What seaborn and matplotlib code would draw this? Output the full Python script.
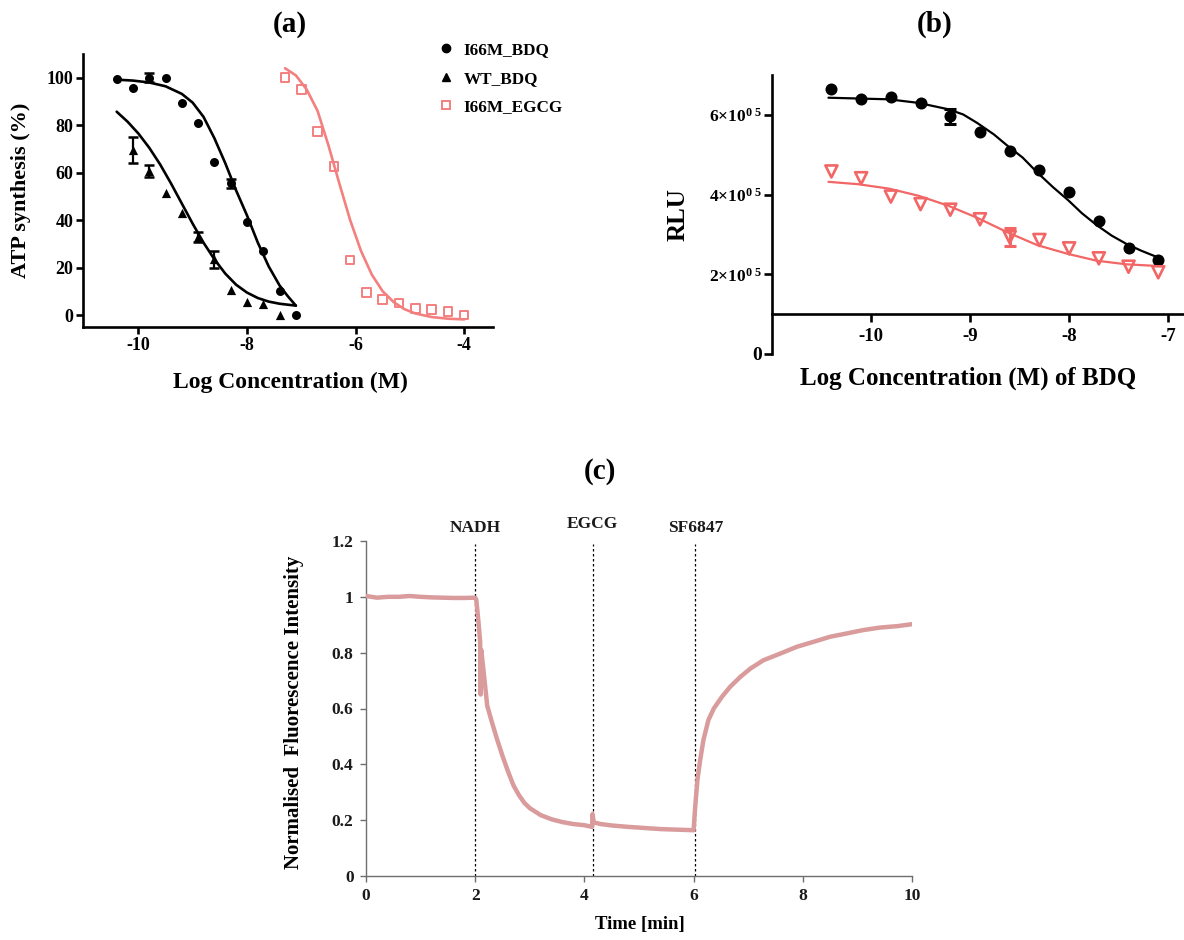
import matplotlib
matplotlib.use("Agg")
import matplotlib.pyplot as plt
from matplotlib.lines import Line2D
import seaborn as sns

# ---- panel (a): ATP synthesis vs log concentration
bdq_x = [-10.4, -10.1, -9.8, -9.5, -9.2, -8.9, -8.6, -8.3, -8.0, -7.7, -7.4, -7.1]
i66m_bdq = [99.4, 95.6, 100.0, 100.0, 89.2, 81.0, 64.6, 55.5, 39.3, 27.2, 10.1, 0.0]
i66m_bdq_err = [0, 0, 2.0, 0, 0, 0, 0, 2.0, 0, 0, 0, 0]

wt_x = [-10.1, -9.8, -9.5, -9.2, -8.9, -8.6, -8.3, -8.0, -7.7, -7.4]
wt_bdq = [69.5, 60.8, 51.5, 43.1, 33.0, 23.5, 10.5, 5.5, 4.5, 0.0]
wt_bdq_err = [5.5, 2.5, 0, 0, 2.0, 3.5, 0, 0, 0, 0]

egcg_x = [-7.3, -7.0, -6.7, -6.4, -6.1, -5.8, -5.5, -5.2, -4.9, -4.6, -4.3, -4.0]
i66m_egcg = [100.0, 95.1, 77.4, 62.5, 23.2, 9.6, 6.5, 5.1, 2.8, 2.4, 1.5, 0.0]

# fitted curves
fit_i66m_x = [-10.4, -10.1, -9.8, -9.5, -9.2, -9.0, -8.8, -8.6, -8.4, -8.2, -8.0,
              -7.8, -7.6, -7.4, -7.25, -7.1]
fit_i66m_y = [99.2, 98.8, 98.0, 96.4, 93.2, 89.5, 83.5, 74.5, 64.0, 52.5, 42.0,
              30.5, 20.5, 12.5, 8.0, 4.0]
fit_wt_x = [-10.4, -10.2, -10.0, -9.8, -9.6, -9.4, -9.2, -9.0, -8.8, -8.6, -8.4,
            -8.2, -8.0, -7.8, -7.6, -7.4, -7.1]
fit_wt_y = [85.7, 81.5, 76.5, 70.5, 63.5, 55.5, 47.0, 38.5, 30.5, 23.5, 17.5,
            12.8, 9.5, 7.2, 5.7, 4.8, 4.0]
fit_egcg_x = [-7.3, -7.1, -6.9, -6.7, -6.5, -6.3, -6.1, -5.9, -5.7, -5.5, -5.3,
              -5.1, -4.9, -4.6, -4.3, -4.0]
fit_egcg_y = [104.0, 101.0, 95.0, 86.0, 71.5, 55.5, 40.0, 27.0, 17.0, 10.0, 5.5,
              2.5, 0.7, -0.8, -1.5, -1.8]

# ---- panel (b): RLU vs log concentration of BDQ
rlu_x = [-10.4, -10.1, -9.8, -9.5, -9.2, -8.9, -8.6, -8.3, -8.0, -7.7, -7.4, -7.1]
rlu_black = [6.64e5, 6.41e5, 6.45e5, 6.30e5, 5.96e5, 5.58e5, 5.09e5, 4.62e5,
             4.07e5, 3.33e5, 2.67e5, 2.35e5]
rlu_black_err = [0, 0, 0, 0, 0.18e5, 0, 0, 0, 0, 0, 0, 0]
rlu_red = [4.58e5, 4.41e5, 3.95e5, 3.76e5, 3.62e5, 3.38e5, 2.93e5, 2.86e5,
           2.65e5, 2.40e5, 2.19e5, 2.05e5]
rlu_red_err = [0, 0, 0, 0, 0, 0, 0.22e5, 0, 0, 0, 0, 0]

fit_rlu_x = [-10.43, -10.13, -9.82, -9.52, -9.22, -9.07, -8.93, -8.76, -8.62, -8.47,
             -8.32, -8.16, -8.01, -7.87, -7.72, -7.57, -7.42, -7.27, -7.12]
fit_rlu_black = [6.43e5, 6.41e5, 6.39e5, 6.30e5, 6.14e5, 6.01e5, 5.80e5, 5.51e5, 5.22e5,
                 4.93e5, 4.55e5, 4.18e5, 3.86e5, 3.53e5, 3.23e5, 2.97e5, 2.76e5,
                 2.59e5, 2.44e5]
fit_rlu_red_x = [-10.43, -10.13, -9.82, -9.52, -9.22, -8.93, -8.62, -8.32, -8.01,
                 -7.72, -7.42, -7.12]
fit_rlu_red = [4.32e5, 4.26e5, 4.15e5, 3.97e5, 3.72e5, 3.42e5, 3.05e5, 2.73e5,
               2.51e5, 2.34e5, 2.25e5, 2.21e5]

# ---- panel (c): fluorescence trace
time_min = [0.0, 0.2, 0.4, 0.6, 0.8, 1.0, 1.2, 1.4, 1.6, 1.8, 2.0,
            2.02, 2.06, 2.09, 2.10, 2.11, 2.15, 2.22, 2.30, 2.40, 2.50, 2.60,
            2.70, 2.80, 2.90, 3.00, 3.20, 3.40, 3.60, 3.80, 4.00, 4.14, 4.15,
            4.17, 4.30, 4.50, 4.80, 5.10, 5.40, 5.70, 6.00, 6.03, 6.07, 6.12,
            6.18, 6.27, 6.37, 6.52, 6.67, 6.86, 7.04, 7.28, 7.59, 7.89, 8.20,
            8.50, 8.81, 9.11, 9.42, 9.73, 10.0]
fluor = [1.003, 0.997, 1.0, 1.0, 1.003, 1.0, 0.998, 0.997, 0.996, 0.996, 0.997,
         0.99, 0.91, 0.84, 0.65, 0.81, 0.74, 0.61, 0.555, 0.49, 0.43, 0.375,
         0.325, 0.29, 0.262, 0.243, 0.218, 0.203, 0.193, 0.186, 0.182, 0.176, 0.222,
         0.192, 0.186, 0.181, 0.176, 0.172, 0.168, 0.166, 0.164, 0.25, 0.344, 0.415,
         0.487, 0.558, 0.60, 0.642, 0.678, 0.714, 0.743, 0.773, 0.797, 0.821, 0.839,
         0.857, 0.869, 0.881, 0.89, 0.895, 0.902]
event_times = [2.0, 4.15, 6.03]
event_labels = ["NADH", "EGCG", "SF6847"]
event_label_y = [1.245, 1.262, 1.248]

RED_A = "#F47F7F"
RED_B = "#F26666"
TRACE = "#D99B9B"


def with_err(xs, ys, errs):
    keep = [i for i, e in enumerate(errs) if e > 0]
    return [xs[i] for i in keep], [ys[i] for i in keep], [errs[i] for i in keep]


sns.set_theme(style="ticks")
plt.rcParams["font.family"] = ["Liberation Serif", "DejaVu Serif"]
plt.rcParams["font.weight"] = "bold"
plt.rcParams["axes.labelweight"] = "bold"
plt.rcParams["text.color"] = "black"
plt.rcParams["axes.labelcolor"] = "black"
plt.rcParams["mathtext.fontset"] = "custom"
plt.rcParams["mathtext.rm"] = "Liberation Serif:bold"
plt.rcParams["mathtext.bf"] = "Liberation Serif:bold"
plt.rcParams["mathtext.it"] = "Liberation Serif:bold:italic"
plt.rcParams["mathtext.default"] = "rm"

W, H = 1184, 940
fig = plt.figure(figsize=(W / 100, H / 100), dpi=100)
ax_a = fig.add_axes([83 / W, 1 - 327 / H, 410 / W, 273 / H])
ax_b = fig.add_axes([772 / W, 1 - 354 / H, 412 / W, 279 / H])
ax_c = fig.add_axes([366 / W, 1 - 876 / H, 546 / W, 335 / H])

# ---------------- (a)
sns.lineplot(x=fit_i66m_x, y=fit_i66m_y, color="black", lw=1.9, ax=ax_a,
             estimator=None, sort=False)
sns.lineplot(x=fit_wt_x, y=fit_wt_y, color="black", lw=1.9, ax=ax_a,
             estimator=None, sort=False)
sns.lineplot(x=fit_egcg_x, y=fit_egcg_y, color=RED_A, lw=1.9, ax=ax_a,
             estimator=None, sort=False)
ex, ey, ee = with_err(bdq_x, i66m_bdq, i66m_bdq_err)
ax_a.errorbar(ex, ey, yerr=ee, fmt="none", ecolor="black",
              elinewidth=1.6, capsize=3.5, capthick=1.8)
ex, ey, ee = with_err(wt_x, wt_bdq, wt_bdq_err)
ax_a.errorbar(ex, ey, yerr=ee, fmt="none", ecolor="black",
              elinewidth=1.6, capsize=3.5, capthick=1.8)
sns.scatterplot(x=bdq_x, y=i66m_bdq, marker="o", s=42, color="black",
                edgecolor="black", linewidth=0, ax=ax_a, zorder=5)
sns.scatterplot(x=wt_x, y=wt_bdq, marker="^", s=44, color="black",
                edgecolor="black", linewidth=0, ax=ax_a, zorder=5)
sns.scatterplot(x=egcg_x, y=i66m_egcg, marker="s", s=38, facecolor="none",
                edgecolor=RED_A, linewidth=1.4, ax=ax_a, zorder=5)

ax_a.set_xlim(-11.02, -3.47)
ax_a.set_ylim(-5, 110)
ax_a.set_xticks([-10, -8, -6, -4])
ax_a.set_yticks([0, 20, 40, 60, 80, 100])
ax_a.set_xticklabels(["-10", "-8", "-6", "-4"])
for side in ["top", "right"]:
    ax_a.spines[side].set_visible(False)
for side in ["left", "bottom"]:
    ax_a.spines[side].set_linewidth(1.9)
    ax_a.spines[side].set_color("black")
ax_a.tick_params(direction="out", length=5, width=1.9, labelsize=13, pad=2,
                 colors="black")
ax_a.set_xlabel("Log Concentration (M)", fontsize=17)
ax_a.set_ylabel("ATP synthesis (%)", fontsize=16)
ax_a.xaxis.set_label_coords(0.505, -0.163)
ax_a.yaxis.set_label_coords(-0.127, 0.5)

handles = [
    Line2D([], [], ls="none", marker="o", ms=6, mfc="black", mec="black"),
    Line2D([], [], ls="none", marker="^", ms=6, mfc="black", mec="black"),
    Line2D([], [], ls="none", marker="s", ms=6, mfc="none", mec=RED_A, mew=1.4),
]
fig.legend(handles, ["I66M_BDQ", "WT_BDQ", "I66M_EGCG"], loc="upper left",
           bbox_to_anchor=(422 / W, 1 - 27 / H), frameon=False, fontsize=12.3,
           handlelength=1.0, handletextpad=0.55, labelspacing=0.72)

# ---------------- (b)
sns.lineplot(x=fit_rlu_x, y=fit_rlu_black, color="black", lw=1.6, ax=ax_b,
             estimator=None, sort=False)
sns.lineplot(x=fit_rlu_red_x, y=fit_rlu_red, color=RED_B, lw=1.6, ax=ax_b,
             estimator=None, sort=False)
ex, ey, ee = with_err(rlu_x, rlu_black, rlu_black_err)
ax_b.errorbar(ex, ey, yerr=ee, fmt="none", ecolor="black",
              elinewidth=2.2, capsize=4, capthick=2.2)
ex, ey, ee = with_err(rlu_x, rlu_red, rlu_red_err)
ax_b.errorbar(ex, ey, yerr=ee, fmt="none", ecolor=RED_B,
              elinewidth=2.2, capsize=4, capthick=2.2)
sns.scatterplot(x=rlu_x, y=rlu_black, marker="o", s=75, color="black",
                edgecolor="black", linewidth=0, ax=ax_b, zorder=5)
sns.scatterplot(x=rlu_x, y=rlu_red, marker="v", s=75, facecolor="none",
                edgecolor=RED_B, linewidth=1.9, ax=ax_b, zorder=5)

ax_b.set_xlim(-11.0, -6.84)
ax_b.set_ylim(0, 7e5)
ax_b.set_xticks([-10, -9, -8, -7])
ax_b.set_xticklabels(["-10", "-9", "-8", "-7"])
ax_b.set_yticks([0, 2e5, 4e5, 6e5])
ax_b.set_yticklabels(["0", "2×10$^{0\\ 5}$", "4×10$^{0\\ 5}$", "6×10$^{0\\ 5}$"])
for side in ["top", "right"]:
    ax_b.spines[side].set_visible(False)
ax_b.spines["bottom"].set_position(("data", 1e5))
ax_b.spines["left"].set_bounds(0, 7e5)
for side in ["left", "bottom"]:
    ax_b.spines[side].set_linewidth(1.9)
    ax_b.spines[side].set_color("black")
ax_b.tick_params(direction="out", length=6, width=1.9, colors="black")
ax_b.tick_params(axis="x", labelsize=13.5, pad=4)
ax_b.tick_params(axis="y", labelsize=12.5, pad=1)
ax_b.get_yticklabels()[0].set_fontsize(14)
ax_b.set_xlabel("Log Concentration (M) of BDQ", fontsize=18)
ax_b.set_ylabel("RLU", fontsize=18)
ax_b.xaxis.set_label_coords(0.476, -0.045)
ax_b.yaxis.set_label_coords(-0.2, 0.5)

# ---------------- (c)
ax_c.vlines(event_times, 0, 1.19, colors="black", linestyles=(0, (2, 2)), lw=0.9)
sns.lineplot(x=time_min, y=fluor, color=TRACE, lw=3.2, ax=ax_c,
             estimator=None, sort=False, zorder=3)
for t, lab, ly in zip(event_times, event_labels, event_label_y):
    ax_c.text(t, ly, lab, ha="center", va="center", fontsize=12.5,
              fontweight="bold", color="#1a1a1a", clip_on=False)

ax_c.set_xlim(0, 10)
ax_c.set_ylim(0, 1.2)
ax_c.set_xticks([0, 2, 4, 6, 8, 10])
ax_c.set_yticks([0, 0.2, 0.4, 0.6, 0.8, 1.0, 1.2])
ax_c.set_yticklabels(["0", "0.2", "0.4", "0.6", "0.8", "1", "1.2"])
for side in ["top", "right"]:
    ax_c.spines[side].set_visible(False)
for side in ["left", "bottom"]:
    ax_c.spines[side].set_linewidth(1.0)
    ax_c.spines[side].set_color("#6e6e6e")
ax_c.tick_params(direction="out", length=4, width=1.0, color="#6e6e6e",
                 labelcolor="#1a1a1a", labelsize=12.5, pad=5)
ax_c.set_xlabel("Time [min]", fontsize=13.5)
ax_c.set_ylabel("Normalised  Fluorescence Intensity", fontsize=15)
ax_c.xaxis.set_label_coords(0.502, -0.118)
ax_c.yaxis.set_label_coords(-0.113, 0.49)

# panel titles
fig.text(290 / W, 1 - 24 / H, "(a)", ha="center", va="center", fontsize=21,
         fontweight="bold")
fig.text(935 / W, 1 - 24 / H, "(b)", ha="center", va="center", fontsize=21,
         fontweight="bold")
fig.text(600 / W, 1 - 472 / H, "(c)", ha="center", va="center", fontsize=21,
         fontweight="bold")

fig.savefig("out.png", dpi=100, facecolor="white")
